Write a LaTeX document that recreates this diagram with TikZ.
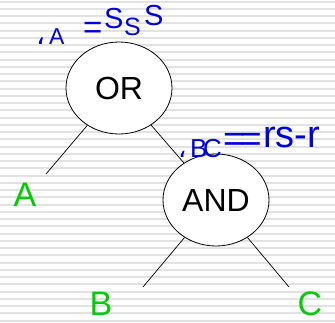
\documentclass[tikz,border=0pt]{standalone}
\usepackage{fontspec}
\setmainfont{Liberation Sans}
\newfontfamily\dejavu{DejaVu Sans}
\usetikzlibrary{shapes.geometric}
\definecolor{leafgreen}{RGB}{0,204,0}
\definecolor{lblblue}{RGB}{0,0,220}
\definecolor{stripegray}{RGB}{226,226,226}
\begin{document}
\begin{tikzpicture}[x=1pt,y=-1pt,
  gate/.style={ellipse, draw=black, line width=0.8pt, fill=white, minimum width=106pt, minimum height=92pt, inner sep=0pt, font=\fontsize{32}{36}\selectfont},
  edge/.style={draw=black, line width=0.7pt},
  leaf/.style={text=leafgreen, inner sep=0pt, anchor=base, font=\fontsize{34}{40}\selectfont},
  lbl/.style={text=lblblue, inner sep=0pt, anchor=base west}]
\useasboundingbox (0,0) rectangle (335,322);
\fill[white] (0,0) rectangle (335,322);
\foreach \i in {0,...,44} \fill[stripegray] (0,{0.5+7.25*\i}) rectangle (335,{2.5+7.25*\i});
\node[gate] (or) at (119,88) {OR};
\node[gate] (and) at (216,200) {AND};
\coordinate (ea) at (46,174);
\coordinate (eb) at (143,287);
\coordinate (ec) at (289,287);
\draw[edge] (or) -- (ea);
\draw[edge] (or) -- (and);
\draw[edge] (and) -- (eb);
\draw[edge] (and) -- (ec);
\node[leaf] (la) at (25,206) {A};
\node[leaf] (lb) at (101,315) {B};
\node[leaf] (lc) at (310,315) {C};
\node[lbl, font=\dejavu\fontsize{28}{32}\selectfont] (c1) at (36,44) {،};
\node[lbl, font=\fontsize{23}{26}\selectfont] (a1) at (49,44) {A};
\node[lbl, font=\fontsize{33}{36}\selectfont] (eq1) at (83,38) {=};
\node[lbl, font=\fontsize{29}{32}\selectfont] (s1) at (104,28) {S};
\node[lbl, font=\fontsize{25}{28}\selectfont] (s2) at (124,35) {S};
\node[lbl, font=\fontsize{29}{32}\selectfont] (s3) at (144,25) {S};
\node[lbl, font=\dejavu\fontsize{26}{30}\selectfont] (c2) at (178,157) {،};
\node[lbl, font=\fontsize{26}{30}\selectfont] (b2) at (190,157) {B};
\node[lbl, font=\fontsize{26}{30}\selectfont] (cc2) at (203,157) {C};
\node[lbl, font=\fontsize{37}{40}\selectfont] (eq2) at (223,151) {=};
\node[lbl, font=\fontsize{37}{40}\selectfont] (eq3) at (240,151) {=};
\node[lbl, font=\fontsize{38}{42}\selectfont] (rs) at (263,147) {rs-r};
\end{tikzpicture}
\end{document}
